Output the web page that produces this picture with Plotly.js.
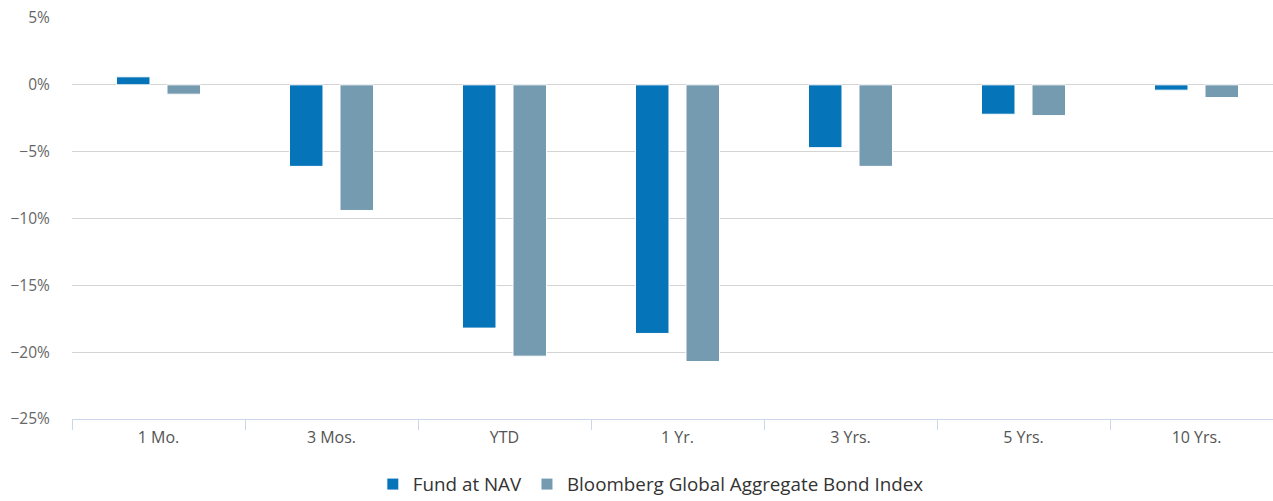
<!DOCTYPE html>
<html>
<head>
<meta charset="utf-8">
<script src="https://cdn.plot.ly/plotly-3.0.1.min.js"></script>
<style>
html, body { margin: 0; padding: 0; overflow: hidden; background: #fff; }
#chart { width: 1290px; height: 501px; }
</style>
</head>
<body>
<div id="chart"></div>
<script>
const categories = ["1 Mo.", "3 Mos.", "YTD", "1 Yr.", "3 Yrs.", "5 Yrs.", "10 Yrs."];
const fundAtNav = [0.6, -6.1, -18.2, -18.6, -4.7, -2.2, -0.4];
const bloombergIndex = [-0.7, -9.4, -20.3, -20.7, -6.1, -2.3, -0.95];
const yTickValues = [5, 0, -5, -10, -15, -20, -25];
const yTickLabels = ["5%", "0%", "\u22125%", "\u221210%", "\u221215%", "\u221220%", "\u221225%"];

const font = "'Open Sans', 'Noto Sans', sans-serif";

const traces = [
  {
    type: 'bar', name: 'Fund at NAV', x: categories, y: fundAtNav,
    marker: { color: '#0674b9', line: { color: '#ffffff', width: 1 } }
  },
  {
    type: 'bar', name: 'Bloomberg Global Aggregate Bond Index', x: categories, y: bloombergIndex,
    marker: { color: '#759bb0', line: { color: '#ffffff', width: 1 } }
  }
];

const layout = {
  width: 1290, height: 501,
  autosize: false,
  margin: { l: 72, r: 7, t: 18, b: 82, autoexpand: false },
  paper_bgcolor: '#ffffff', plot_bgcolor: '#ffffff',
  font: { family: font, size: 15, color: '#666666' },
  barmode: 'group', bargap: 0.416, bargroupgap: 0.337,
  showlegend: true,
  legend: {
    orientation: 'h', x: 0.478, xanchor: 'center',
    y: -0.163, yanchor: 'middle',
    font: { family: font, size: 18.8, color: '#333333' }
  },
  xaxis: {
    type: 'category', tickson: 'boundaries', ticks: 'outside', ticklen: 10,
    tickcolor: '#ccd6eb', tickwidth: 1,
    showline: true, linecolor: '#ccd6eb', linewidth: 1,
    showgrid: false, zeroline: false,
    ticklabelstandoff: 4,
    tickfont: { family: font, size: 16, color: '#555555' }
  },
  yaxis: {
    range: [-25, 5], tickmode: 'array', tickvals: yTickValues, ticktext: yTickLabels,
    showgrid: true, gridcolor: '#d4d4d4', gridwidth: 1,
    zeroline: true, zerolinecolor: '#d4d4d4', zerolinewidth: 1,
    ticks: 'outside', ticklen: 18, tickcolor: 'rgba(0,0,0,0)',
    tickfont: { family: font, size: 15.5, color: '#666666' }
  }
};

Plotly.newPlot('chart', traces, layout, { displayModeBar: false, staticPlot: true });
</script>
</body>
</html>
